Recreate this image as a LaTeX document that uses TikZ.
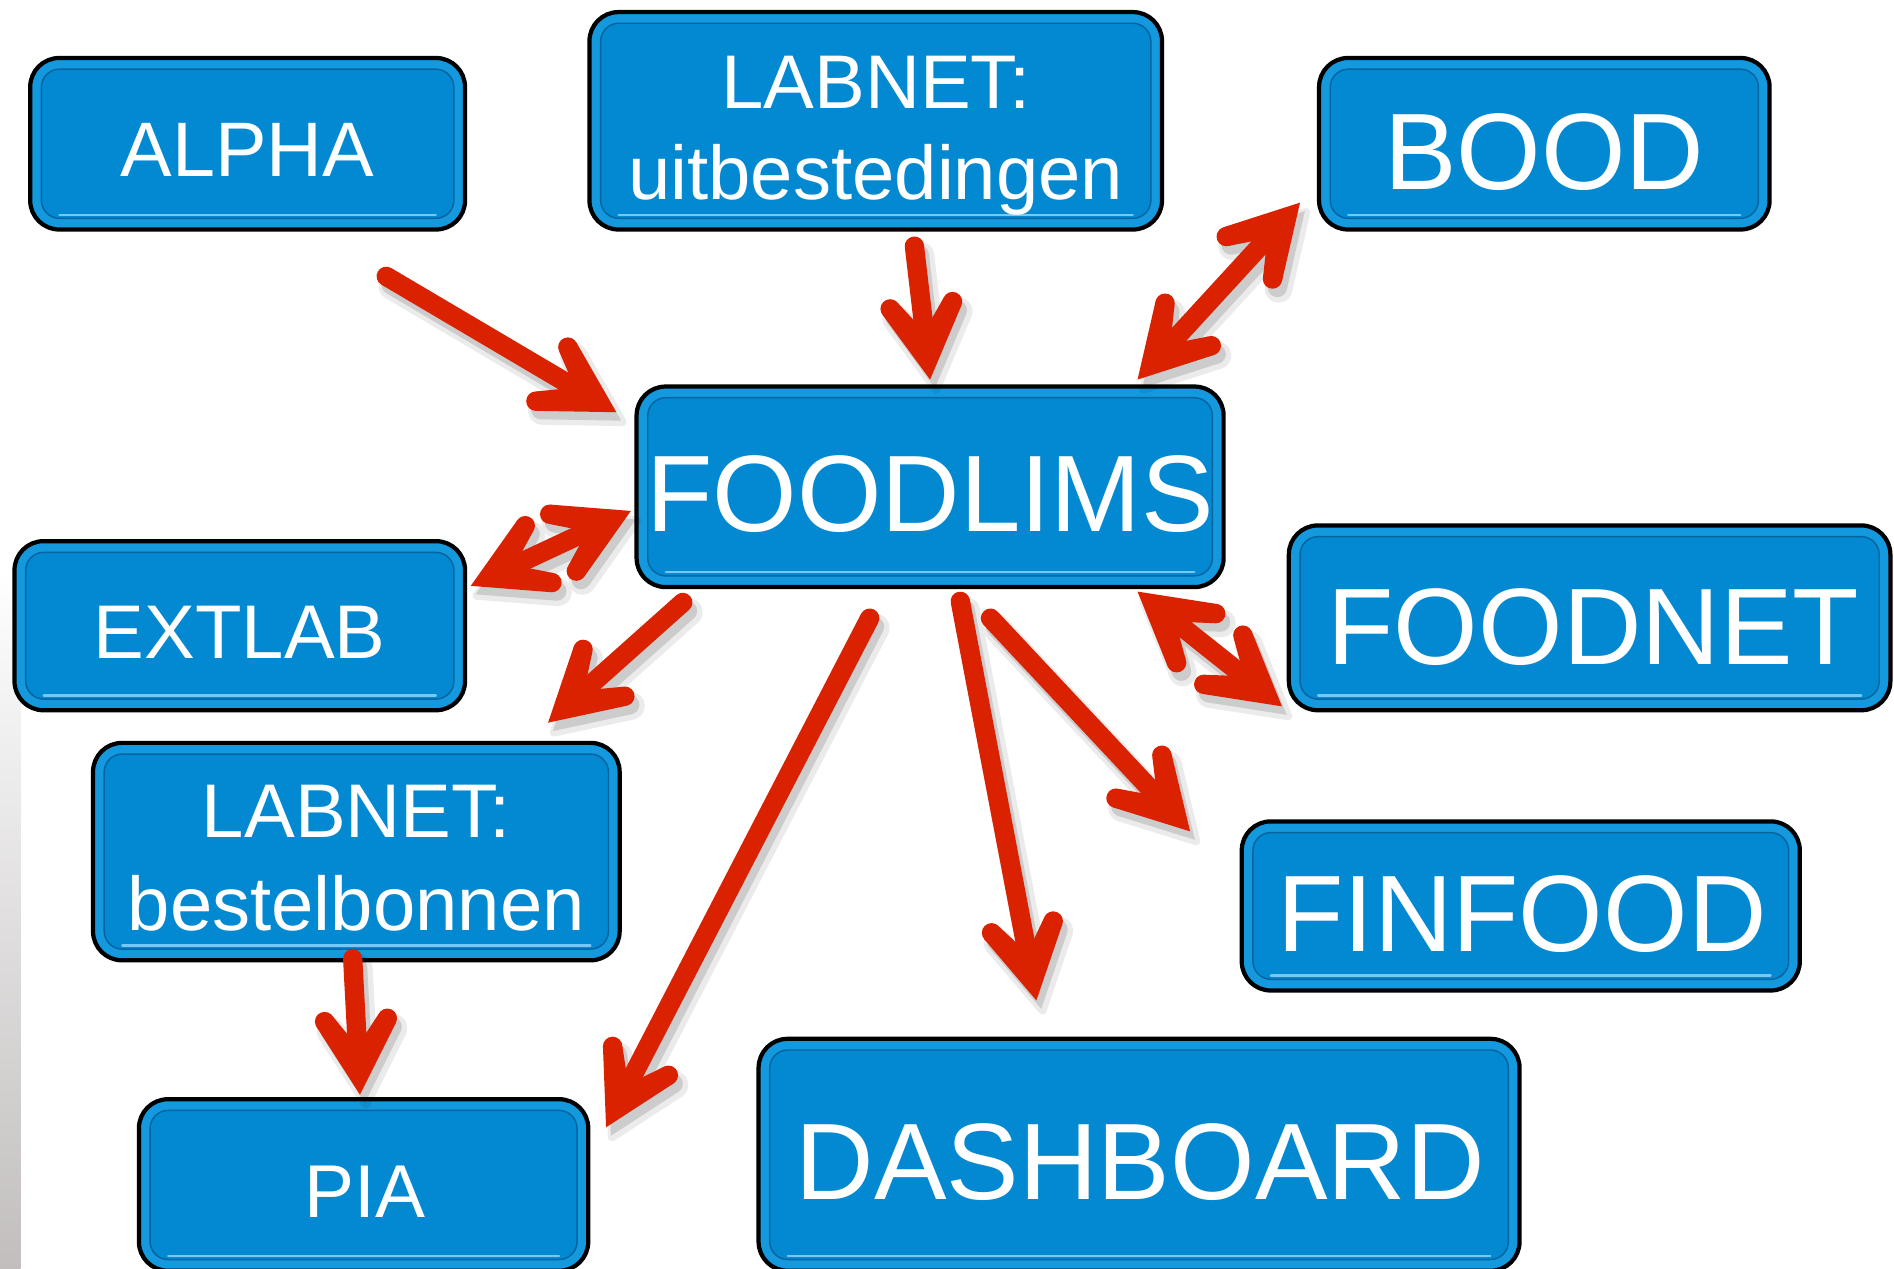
\documentclass[tikz,border=0pt]{standalone}
\usepackage{fontspec}
\setmainfont{Liberation Sans}
\usetikzlibrary{calc}
\definecolor{boxblue}{RGB}{2,137,209}
\definecolor{boxdark}{RGB}{4,100,160}
\definecolor{boxrim}{RGB}{20,152,222}
\definecolor{boxlight}{RGB}{120,200,245}
\definecolor{arrred}{RGB}{218,33,0}
\definecolor{stripgray}{RGB}{194,190,190}
\tikzset{
  box/.style={draw=black, line width=3.5pt, fill=boxrim, rounded corners=24pt, inner sep=0pt},
  inset/.style={draw=boxdark, fill=boxblue, line width=1.2pt, rounded corners=15pt},
  hilite/.style={draw=boxlight, line width=2pt, line cap=round},
  lbl/.style={text=white, inner sep=0pt, anchor=base},
  big/.style={font=\fontsize{90}{90}\selectfont},
  mid/.style={font=\fontsize{63}{63}\selectfont},
  redline/.style={draw=arrred, line width=16pt, line cap=round},
  redfill/.style={fill=arrred},
  shline/.style={draw=black, line width=16pt, line cap=round},
  shfill/.style={fill=black},
  shlinewide/.style={draw=black, line width=23pt, line cap=round},
  shfillwide/.style={fill=black, draw=black, line width=7pt, line join=round},
}
% head: #1 fill style, #2 tip, #3 point the arrow comes from
\newcommand\headshape[3]{%
  \path[#1] (#2) -- ($(#2)!66.7pt!29.6:(#3)$) -- ($(#2)!68.7pt!16.1:(#3)$) -- ($(#2)!40pt!(#3)$)
     -- ($(#2)!68.7pt!-16.1:(#3)$) -- ($(#2)!66.7pt!-29.6:(#3)$) -- cycle;
  \path[#1] ($(#2)!67.2pt!22.75:(#3)$) circle (8.05pt);
  \path[#1] ($(#2)!67.2pt!-22.75:(#3)$) circle (8.05pt);
}
% #1 line style, #2 fill style, #3 start, #4 tip
\newcommand\onearrow[4]{%
  \path[#1] (#3) -- ($(#4)!30pt!(#3)$);
  \headshape{#2}{#4}{#3}
}
\newcommand\twoarrow[4]{%
  \path[#1] ($(#3)!30pt!(#4)$) -- ($(#4)!30pt!(#3)$);
  \headshape{#2}{#3}{#4}
  \headshape{#2}{#4}{#3}
}
\newcommand\allarrows[2]{%
  \onearrow{#1}{#2}{a1s}{a1t}
  \onearrow{#1}{#2}{a2s}{a2t}
  \twoarrow{#1}{#2}{a3a}{a3b}
  \twoarrow{#1}{#2}{a4a}{a4b}
  \onearrow{#1}{#2}{a5s}{a5t}
  \onearrow{#1}{#2}{a6s}{a6t}
  \onearrow{#1}{#2}{a7s}{a7t}
  \onearrow{#1}{#2}{a8s}{a8t}
  \twoarrow{#1}{#2}{a9a}{a9b}
  \onearrow{#1}{#2}{a10s}{a10t}
}
\newcommand\boxdeco[1]{%
  \draw[inset] ($(#1.north west)+(11,-11)$) rectangle ($(#1.south east)+(-11,11)$);
  \draw[hilite] ($(#1.south west)+(26,14)$) -- ($(#1.south east)+(-26,14)$);
}
\begin{document}
\begin{tikzpicture}[x=1pt,y=1pt]
\useasboundingbox (0,0) rectangle (1568,-1050);
\clip (0,0) rectangle (1568,-1050);
\fill[white] (0,0) rectangle (1568,-1050);
\shade[top color=white, bottom color=stripgray] (0,-470) rectangle (17,-1050);

% boxes
\node[box, minimum width=360pt, minimum height=142pt] (alpha) at (205,-119) {};
\node[box, minimum width=474pt, minimum height=180pt] (labu) at (725,-100) {};
\node[box, minimum width=373pt, minimum height=142pt] (bood) at (1278.5,-119) {};
\node[box, minimum width=486pt, minimum height=166pt] (foodlims) at (770,-403) {};
\node[box, minimum width=373pt, minimum height=140pt] (extlab) at (198.5,-518) {};
\node[box, minimum width=498pt, minimum height=153pt] (foodnet) at (1316,-511.5) {};
\node[box, minimum width=436pt, minimum height=180pt] (labb) at (295,-705) {};
\node[box, minimum width=372pt, minimum height=142pt] (pia) at (301,-981) {};
\node[box, minimum width=462pt, minimum height=140pt] (finfood) at (1259,-750) {};
\node[box, minimum width=630pt, minimum height=192pt] (dashboard) at (943,-956) {};
\foreach \b in {alpha,labu,bood,foodlims,extlab,foodnet,labb,pia,finfood,dashboard} {\boxdeco{\b}}

% labels
\node[lbl, font=\fontsize{64}{64}\selectfont] (alpha-t) at ($(alpha.center)+(0,-27)$) {ALPHA};
\node[lbl, mid] (labu-t1) at ($(labu.center)+(0,10)$) {LABNET:};
\node[lbl, mid] (labu-t2) at ($(labu.center)+(0,-65)$) {uitbestedingen};
\node[lbl, big] (bood-t) at ($(bood.center)+(0,-38)$) {BOOD};
\node[lbl, big] (foodlims-t) at ($(foodlims.center)+(0,-37)$) {FOODLIMS};
\node[lbl, mid] (extlab-t) at ($(extlab.center)+(0,-27)$) {EXTLAB};
\node[lbl, big] (foodnet-t) at ($(foodnet.center)+(3,-38.5)$) {FOODNET};
\node[lbl, mid] (labb-t1) at ($(labb.center)+(0,12)$) {LABNET:};
\node[lbl, mid] (labb-t2) at ($(labb.center)+(0,-65)$) {bestelbonnen};
\node[lbl, font=\fontsize{62}{62}\selectfont] (pia-t) at ($(pia.center)+(1,-27)$) {PIA};
\node[lbl, big] (finfood-t) at ($(finfood.center)+(1,-38)$) {FINFOOD};
\node[lbl, big] (dashboard-t) at ($(dashboard.center)+(1,-37)$) {DASHBOARD};

% arrow end points
\coordinate (a1s) at ($(alpha.south east)+(-67,-37)$);
\coordinate (a1t) at ($(foodlims.north west)+(-15,-23)$);
\coordinate (a2s) at ($(labu.south)+(32,-12)$);
\coordinate (a2t) at ($(foodlims.north)+(0,4)$);
\coordinate (a3a) at ($(foodlims.north east)+(-73,4)$);
\coordinate (a3b) at ($(bood.south west)+(-14,24)$);
\coordinate (a4a) at ($(foodlims.west)+(-3,-20)$);
\coordinate (a4b) at ($(extlab.east)+(3,33)$);
\coordinate (a5s) at ($(foodlims.south west)+(40,-11)$);
\coordinate (a5t) at ($(labb.north east)+(-61,15)$);
\coordinate (a6s) at ($(foodlims.south)+(-50,-24)$);
\coordinate (a6t) at ($(pia.north east)+(13,-25)$);
\coordinate (a7s) at ($(foodlims.south)+(25,-10)$);
\coordinate (a7t) at ($(dashboard.north)+(-85,30)$);
\coordinate (a8s) at ($(foodlims.south)+(50,-24)$);
\coordinate (a8t) at ($(finfood.north west)+(-41,-10)$);
\coordinate (a9a) at ($(foodlims.south east)+(-73,-2)$);
\coordinate (a9b) at ($(foodnet.south west)+(-4,5)$);
\coordinate (a10s) at ($(labb.south)+(-3,3)$);
\coordinate (a10t) at ($(pia.north)+(-3,2)$);

% soft shadows
\begin{scope}[transparency group, opacity=0.08, transform canvas={shift={(5pt,-8pt)}}]
  \allarrows{shlinewide}{shfillwide}
\end{scope}
\begin{scope}[transparency group, opacity=0.13, transform canvas={shift={(4pt,-7pt)}}]
  \allarrows{shline}{shfill}
\end{scope}
% arrows
\allarrows{redline}{redfill}
\end{tikzpicture}
\end{document}
